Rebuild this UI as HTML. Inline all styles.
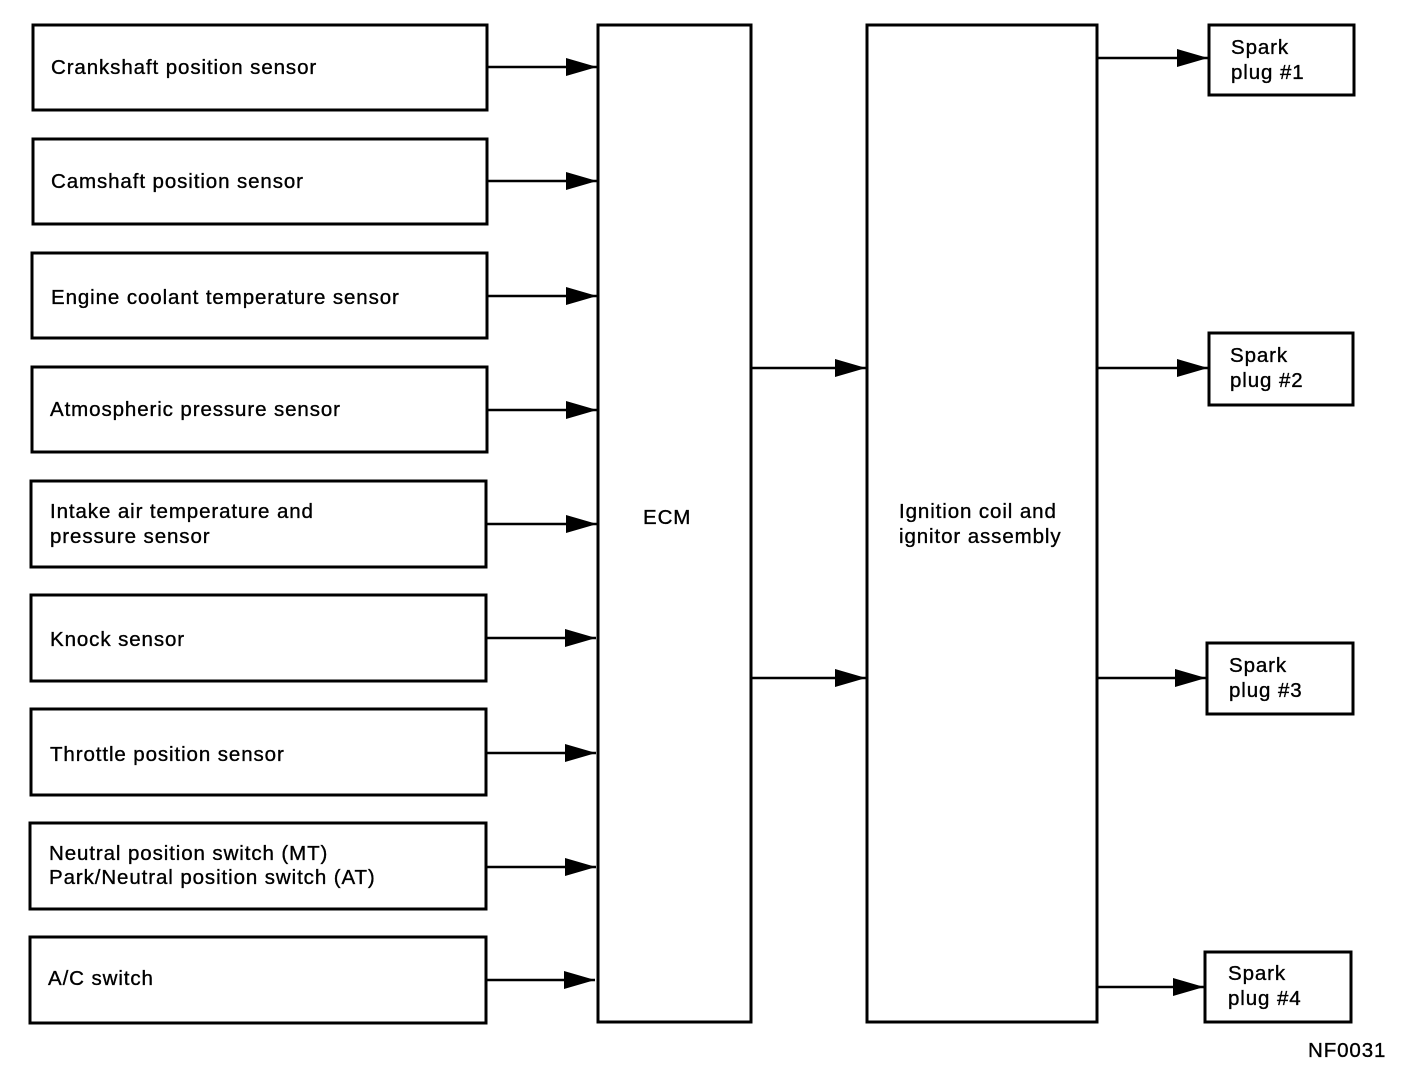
<!DOCTYPE html>
<html><head><style>
html,body{margin:0;padding:0;background:#fff;}
svg{display:block;}
text{font-family:"Liberation Sans",Arial,sans-serif;font-size:20.5px;fill:#000;letter-spacing:0.9px;stroke:#000;stroke-width:0.35px;}
</style></head><body>
<svg width="1408" height="1080" viewBox="0 0 1408 1080" xmlns="http://www.w3.org/2000/svg">
<defs>
<marker id="a" markerWidth="32" markerHeight="18" refX="31" refY="9" orient="auto" markerUnits="userSpaceOnUse">
<path d="M0,0 L31,9 L0,18 Z" fill="#000"/>
</marker>
</defs>
<g fill="none" stroke="#000" stroke-width="3">
<rect x="33" y="25" width="454" height="85"/>
<rect x="33" y="139" width="454" height="85"/>
<rect x="32" y="253" width="455" height="85"/>
<rect x="32" y="367" width="455" height="85"/>
<rect x="31" y="481" width="455" height="86"/>
<rect x="31" y="595" width="455" height="86"/>
<rect x="31" y="709" width="455" height="86"/>
<rect x="30" y="823" width="456" height="86"/>
<rect x="30" y="937" width="456" height="86"/>
<rect x="598" y="25" width="153" height="997"/>
<rect x="867" y="25" width="230" height="997"/>
<rect x="1209" y="25" width="145" height="70"/>
<rect x="1209" y="333" width="144" height="72"/>
<rect x="1207" y="643" width="146" height="71"/>
<rect x="1205" y="952" width="146" height="70"/>
</g>
<g stroke="#000" stroke-width="2.5" marker-end="url(#a)">
<line x1="488" y1="67" x2="597" y2="67"/>
<line x1="488" y1="181" x2="597" y2="181"/>
<line x1="488" y1="296" x2="597" y2="296"/>
<line x1="488" y1="410" x2="597" y2="410"/>
<line x1="487" y1="524" x2="597" y2="524"/>
<line x1="487" y1="638" x2="596" y2="638"/>
<line x1="487" y1="753" x2="596" y2="753"/>
<line x1="487" y1="867" x2="596" y2="867"/>
<line x1="487" y1="980" x2="595" y2="980"/>
<line x1="752" y1="368" x2="866" y2="368"/>
<line x1="752" y1="678" x2="866" y2="678"/>
<line x1="1098" y1="58" x2="1208" y2="58"/>
<line x1="1098" y1="368" x2="1208" y2="368"/>
<line x1="1098" y1="678" x2="1206" y2="678"/>
<line x1="1098" y1="987" x2="1204" y2="987"/>
</g>
<text x="51" y="74">Crankshaft position sensor</text>
<text x="51" y="188">Camshaft position sensor</text>
<text x="51" y="304">Engine coolant temperature sensor</text>
<text x="50" y="416">Atmospheric pressure sensor</text>
<text x="50" y="518">Intake air temperature and</text>
<text x="50" y="543">pressure sensor</text>
<text x="50" y="646">Knock sensor</text>
<text x="50" y="761">Throttle position sensor</text>
<text x="49" y="860">Neutral position switch (MT)</text>
<text x="49" y="884">Park/Neutral position switch (AT)</text>
<text x="48" y="985">A/C switch</text>
<text x="643" y="524">ECM</text>
<text x="899" y="518">Ignition coil and</text>
<text x="899" y="543">ignitor assembly</text>
<text x="1231" y="54">Spark</text>
<text x="1231" y="79">plug #1</text>
<text x="1230" y="362">Spark</text>
<text x="1230" y="387">plug #2</text>
<text x="1229" y="672">Spark</text>
<text x="1229" y="697">plug #3</text>
<text x="1228" y="980">Spark</text>
<text x="1228" y="1005">plug #4</text>
<text x="1308" y="1057">NF0031</text>
</svg>
</body></html>
